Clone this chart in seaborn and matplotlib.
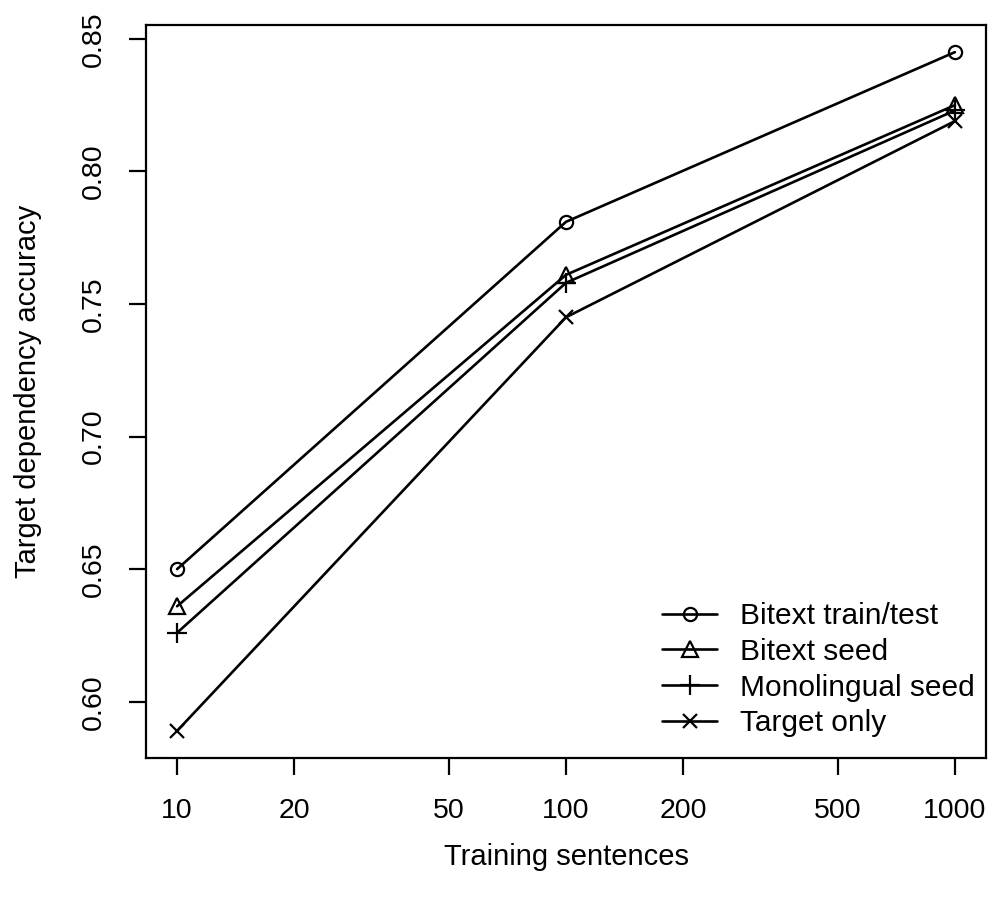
import numpy as np
import pandas as pd
import matplotlib
matplotlib.use("Agg")
import matplotlib.pyplot as plt
import seaborn as sns

# ---- data ----
sentences = [10, 100, 1000]
bitext_train_test = [0.650, 0.781, 0.845]
bitext_seed = [0.636, 0.761, 0.825]
monolingual_seed = [0.626, 0.758, 0.823]
target_only = [0.589, 0.745, 0.819]
series_names = ["Bitext train/test", "Bitext seed", "Monolingual seed", "Target only"]
x_ticks = [10, 20, 50, 100, 200, 500, 1000]
y_ticks = [0.60, 0.65, 0.70, 0.75, 0.80, 0.85]

sns.set_style("ticks")
plt.rcParams["font.family"] = ["Liberation Sans", "DejaVu Sans"]
plt.rcParams["text.color"] = "black"
plt.rcParams["axes.labelcolor"] = "black"

series_values = [bitext_train_test, bitext_seed, monolingual_seed, target_only]
rows = []
for name, vals in zip(series_names, series_values):
    for x, y in zip(sentences, vals):
        rows.append({"x": x, "y": y, "series": name})
df = pd.DataFrame(rows)

W, H = 993, 898
fig = plt.figure(figsize=(W / 100, H / 100), dpi=100)
ax = fig.add_axes([146 / W, 1 - 758 / H, (986 - 146) / W, (758 - 25) / H])

markers = ["o", "^", "+", "x"]
sizes = [9.5, 11, 14, 10]
for name, m, s in zip(series_names, markers, sizes):
    sub = df[df["series"] == name]
    sns.lineplot(data=sub, x="x", y="y", color="black", marker=m,
                 markersize=s, errorbar=None, legend=False, linewidth=1.9,
                 markerfacecolor="none", markeredgecolor="black",
                 markeredgewidth=1.6, ax=ax)

ax.set_xscale("log")
lx = np.log10([min(sentences), max(sentences)])
dx = 0.04 * (lx[1] - lx[0])
ax.set_xlim(10 ** (lx[0] - dx), 10 ** (lx[1] + dx))
allv = np.concatenate(series_values)
dy = 0.04 * (allv.max() - allv.min())
ax.set_ylim(allv.min() - dy, allv.max() + dy)

ax.set_xticks(x_ticks)
ax.set_xticklabels([str(t) for t in x_ticks])
ax.xaxis.set_minor_locator(matplotlib.ticker.NullLocator())
ax.set_yticks(y_ticks)
ax.set_yticklabels([f"{t:.2f}" for t in y_ticks], rotation=90, va="center")

ax.tick_params(axis="both", length=12.5, width=1.6, color="black",
               labelsize=20.5, labelcolor="black", direction="out")
ax.tick_params(axis="x", pad=16)
ax.tick_params(axis="y", pad=16)
for sp in ax.spines.values():
    sp.set_visible(True)
    sp.set_linewidth(1.6)
    sp.set_color("black")

ax.set_xlabel("Training sentences", fontsize=21, labelpad=14, color="black")
ax.set_ylabel("Target dependency accuracy", fontsize=21, labelpad=28, color="black")

leg = ax.legend(ax.lines, series_names, loc="upper left",
                bbox_to_anchor=(662 / W, 1 - 602 / H), bbox_transform=fig.transFigure,
                frameon=False, borderpad=0, borderaxespad=0, handlelength=1.85,
                handletextpad=0.75, labelspacing=0.26, fontsize=21.5)
for t in leg.get_texts():
    t.set_color("black")

fig.savefig("out.png", dpi=100, facecolor="white")
